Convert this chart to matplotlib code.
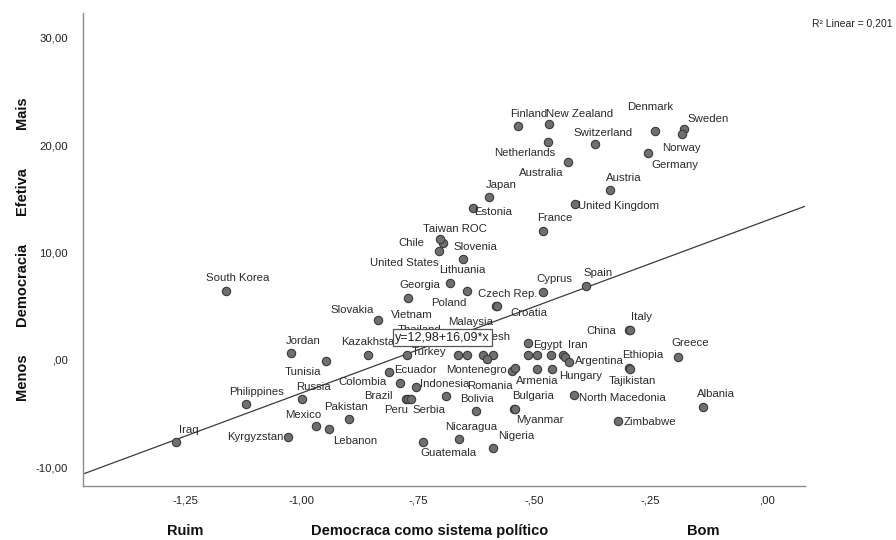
import matplotlib
matplotlib.use("Agg")
import matplotlib.pyplot as plt
import numpy as np

plt.rcParams["font.family"] = ["Liberation Sans", "DejaVu Sans"]

# Country scores: support for democracy (x) vs. effective democracy index (y)
countries = [
    "Iraq", "South Korea", "Philippines", "Kyrgyzstan", "Jordan", "Russia",
    "Mexico", "Tunisia", "Lebanon", "Pakistan", "Kazakhstan", "Slovakia",
    "Ecuador", "Colombia", "Turkey", "Brazil", "Peru", "Serbia", "Indonesia",
    "Georgia", "Vietnam", "Thailand", "Malaysia", "Bangladesh", "",
    "Guatemala", "Nicaragua", "Nigeria", "Bolivia", "Romania", "Myanmar",
    "Bulgaria", "Montenegro", "", "Armenia", "Hungary", "Egypt", "", "", "",
    "Iran", "", "Argentina", "North Macedonia", "Zimbabwe", "Ethiopia",
    "Tajikistan", "Italy", "China", "Greece", "Albania", "Cyprus",
    "Czech Rep.", "Croatia", "Spain", "Poland", "Lithuania", "Slovenia",
    "Taiwan ROC", "Chile", "United States", "Japan", "Estonia", "France",
    "United Kingdom", "Austria", "Australia", "Netherlands", "Finland",
    "New Zealand", "Switzerland", "Denmark", "Sweden", "Norway", "Germany",
]
support_democracy = [
    -1.269, -1.162, -1.120, -1.029, -1.023, -0.999,
    -0.969, -0.947, -0.940, -0.898, -0.856, -0.835,
    -0.811, -0.788, -0.774, -0.775, -0.770, -0.765, -0.754,
    -0.772, -0.663, -0.645, -0.609, -0.589, -0.602,
    -0.739, -0.662, -0.588, -0.625, -0.689, -0.543,
    -0.541, -0.548, -0.541, -0.494, -0.462, -0.514, -0.513, -0.493, -0.464,
    -0.438, -0.433, -0.425, -0.4145, -0.319, -0.296,
    -0.295, -0.296, -0.295, -0.1905, -0.137, -0.482,
    -0.581, -0.580, -0.389, -0.644, -0.681, -0.653,
    -0.6965, -0.702, -0.704, -0.596, -0.632, -0.482,
    -0.412, -0.337, -0.427, -0.4697, -0.534,
    -0.4676, -0.3694, -0.2405, -0.178, -0.183, -0.256,
]
effective_democracy = [
    -7.64, 6.40, -4.13, -7.20, 0.65, -3.71,
    -6.15, -0.12, -6.49, -5.53, 0.44, 3.70,
    -1.15, -2.20, 0.48, -3.66, -3.71, -3.66, -2.57,
    5.75, 0.48, 0.48, 0.48, 0.39, 0.07,
    -7.64, -7.42, -8.23, -4.78, -3.36, -4.61,
    -4.63, -1.05, -0.73, -0.89, -0.89, 1.53, 0.44, 0.44, 0.44,
    0.44, 0.25, -0.24, -3.26, -5.74, -0.80,
    -0.85, 2.77, 2.72, 0.28, -4.38, 6.34,
    5.00, 4.97, 6.87, 6.37, 7.12, 9.41,
    10.85, 11.22, 10.10, 15.12, 14.17, 11.99,
    14.48, 15.82, 18.40, 20.26, 21.78,
    21.97, 20.10, 21.34, 21.47, 21.01, 19.29,
]

x_ticks = [-1.25, -1.00, -0.75, -0.50, -0.25, 0.00]
x_tick_labels = ["-1,25", "-1,00", "-,75", "-,50", "-,25", ",00"]
y_ticks = [-10, 0, 10, 20, 30]
y_tick_labels = ["-10,00", ",00", "10,00", "20,00", "30,00"]

intercept, slope = 12.98, 16.09
r_squared = 0.201

# Label placement: offset in pixels from the point, and horizontal alignment
label_offsets = {
    "Iraq": (13, 11.7, "center"), "South Korea": (12, 13, "center"),
    "Philippines": (11, 11.7, "center"), "Kyrgyzstan": (-4, 0, "right"),
    "Jordan": (12.6, 12, "center"), "Russia": (11.6, 12.2, "center"),
    "Mexico": (-12.7, 10.7, "center"), "Tunisia": (-22.7, -11.3, "center"),
    "Lebanon": (25.7, -11.7, "center"), "Pakistan": (-3, 11.7, "center"),
    "Kazakhstan": (2.7, 13, "center"), "Slovakia": (-26, 10, "center"),
    "Ecuador": (4.5, 2, "left"), "Colombia": (-37.3, 1, "center"),
    "Turkey": (5, 2.8, "left"), "Brazil": (-27.7, 3, "center"),
    "Peru": (-12.5, -10.5, "center"), "Serbia": (18, -11, "center"),
    "Indonesia": (4, 3.3, "left"), "Georgia": (12.7, 13, "center"),
    "Vietnam": (-46.6, 39.5, "center"), "Thailand": (-46.7, 24.5, "center"),
    "Malaysia": (-13.3, 32.8, "center"), "Bangladesh": (-12.7, 18.5, "center"),
    "Guatemala": (25.3, -11, "center"), "Nicaragua": (12.7, 12.6, "center"),
    "Nigeria": (23.4, 12, "center"), "Bolivia": (1.3, 11.7, "center"),
    "Romania": (44, 9.7, "center"), "Myanmar": (25.8, -11.3, "center"),
    "Bulgaria": (18.3, 13.5, "center"), "Montenegro": (-35, 1, "center"),
    "Armenia": (0, -11.7, "center"), "Hungary": (28.3, -6.4, "center"),
    "Egypt": (5.6, -1.7, "left"), "Iran": (15, 10, "center"),
    "Argentina": (5.7, 1.3, "left"), "North Macedonia": (5, -3.3, "left"),
    "Zimbabwe": (5, -1, "left"), "Ethiopia": (13.7, 12.8, "center"),
    "Tajikistan": (2.2, -11.9, "center"), "Italy": (12.7, 12.7, "center"),
    "China": (-28.5, -0.2, "center"), "Greece": (11.7, 13.4, "center"),
    "Albania": (12.7, 12.7, "center"), "Cyprus": (12.3, 12.7, "center"),
    "Czech Rep.": (11.6, 11.7, "center"), "Croatia": (31.8, -6.9, "center"),
    "Spain": (12, 13, "center"), "Poland": (-18.3, -12, "center"),
    "Lithuania": (12, 13.3, "center"), "Slovenia": (12, 12, "center"),
    "Taiwan ROC": (12.3, 14.3, "center"), "Chile": (-29, -3.7, "center"),
    "United States": (-35.3, -11.7, "center"), "Japan": (12.2, 12.5, "center"),
    "Estonia": (20.6, -4.6, "center"), "France": (12.3, 13, "center"),
    "United Kingdom": (3.3, -1.7, "left"), "Austria": (13.3, 11.7, "center"),
    "Australia": (-26.6, -11, "center"), "Netherlands": (-24, -11, "center"),
    "Finland": (10, 12, "center"), "New Zealand": (30.7, 10, "center"),
    "Switzerland": (8.3, 11.3, "center"), "Denmark": (-5, 24, "center"),
    "Sweden": (24.3, 10, "center"), "Norway": (0, -14, "center"),
    "Germany": (26.6, -12.3, "center"),
}

W, H = 896, 540
fig = plt.figure(figsize=(W / 100, H / 100), dpi=100)
ax_left, ax_right, ax_top, ax_bottom = 83, 805, 13, 486
ax = fig.add_axes([ax_left / W, 1 - ax_bottom / H,
                   (ax_right - ax_left) / W, (ax_bottom - ax_top) / H])

xlim = (-1.469, 0.0816)
ylim = (-11.77, 32.3)
ax.set_xlim(*xlim)
ax.set_ylim(*ylim)

for side in ("top", "right"):
    ax.spines[side].set_visible(False)
for side in ("left", "bottom"):
    ax.spines[side].set_color("#8c8c8c")
    ax.spines[side].set_linewidth(1.0)

ax.set_xticks(x_ticks)
ax.set_xticklabels(x_tick_labels)
ax.set_yticks(y_ticks)
ax.set_yticklabels(y_tick_labels)
ax.tick_params(axis="both", length=0, labelsize=8.2, colors="#222222")
ax.tick_params(axis="x", pad=7)
ax.tick_params(axis="y", pad=11)

# Linear fit line across the full x range
fx = np.array(xlim)
ax.plot(fx, intercept + slope * fx, color="#3a3a3a", lw=0.9, zorder=2)

ax.scatter(support_democracy, effective_democracy, s=36,
           facecolor="#6f6f6f", edgecolor="#3a3a3a", linewidth=0.8, zorder=3)

for name, xv, yv in zip(countries, support_democracy, effective_democracy):
    if not name:
        continue
    dx, dy, ha = label_offsets[name]
    ax.annotate(name, (xv, yv), xytext=(dx, dy), textcoords="offset pixels",
                ha=ha, va="center", fontsize=8.2, color="#2a2a2a", zorder=4)

# Fit equation box
eq_text = "y=" + f"{intercept:.2f}".replace(".", ",") + "+" + \
    f"{slope:.2f}".replace(".", ",") + "*x"
ax.text((442.5 - ax_left) / (ax_right - ax_left),
        (ax_bottom - 337.5) / (ax_bottom - ax_top),
        eq_text, transform=ax.transAxes, ha="center", va="center",
        fontsize=9, color="#222222", zorder=6,
        bbox=dict(boxstyle="square,pad=0.18", facecolor="white",
                  edgecolor="#555555", linewidth=0.9))

# R squared note
fig.text(893 / W, 1 - 24 / H, "R² Linear = " + f"{r_squared:.3f}".replace("0.", "0,"),
         ha="right", va="center", fontsize=7.5, color="#222222")

# Axis titles
fig.text(185 / W, 1 - 531 / H, "Ruim", ha="center", va="center",
         fontsize=10.5, fontweight="bold", color="#111111")
fig.text(430 / W, 1 - 531 / H, "Democraca como sistema político", ha="center",
         va="center", fontsize=10.5, fontweight="bold", color="#111111")
fig.text(703 / W, 1 - 531 / H, "Bom", ha="center", va="center",
         fontsize=10.5, fontweight="bold", color="#111111")

for word, yc in (("Mais", 113), ("Efetiva", 191), ("Democracia", 284), ("Menos", 377)):
    fig.text(22 / W, 1 - yc / H, word, ha="center", va="center", rotation=90,
             fontsize=10.5, fontweight="bold", color="#111111")

fig.savefig("out.png", dpi=100)
